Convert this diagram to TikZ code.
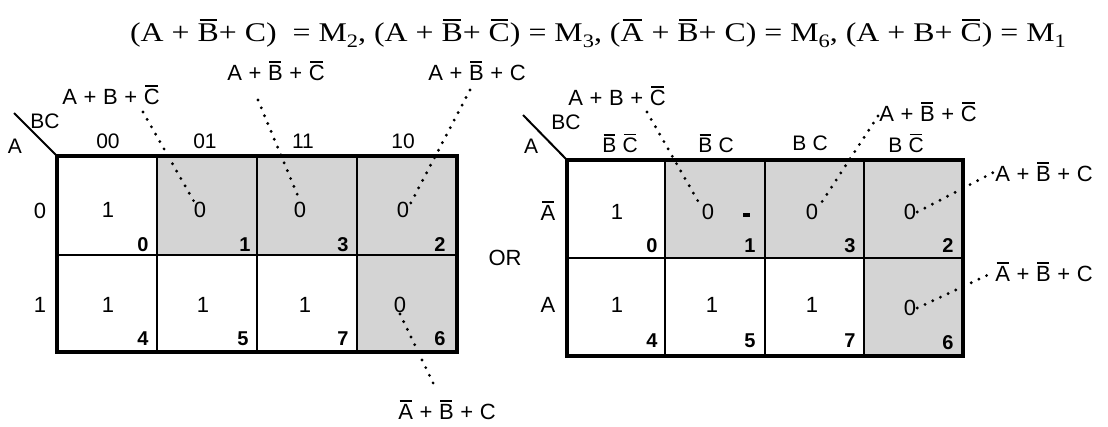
\documentclass[tikz,border=0pt]{standalone}
\usepackage{fontspec}
\setsansfont{Liberation Sans}
\newfontfamily\titlefont{Liberation Serif}
\newcommand\ob[1]{\leavevmode\setbox0\hbox{#1}\rlap{\hbox to \wd0{\hss\rule[\dimexpr\ht0+0.1em\relax]{0.82\wd0}{0.085em}\hss}}\box0}
\newcommand\fsz[1]{\fontsize{#1}{#1}\selectfont}
\newcommand\lp{\hspace{0.3em}+\hspace{0.3em}}
\newcommand\msub[1]{\raisebox{-0.22em}{\fsz{19}#1}}
\begin{document}
\begin{tikzpicture}[x=1pt,y=-1pt,
  gridline/.style={line width=2pt},
  frame/.style={line width=3.5pt},
  shade/.style={fill=black!17},
  val/.style={font=\sffamily\fsz{22}, inner sep=1pt},
  idx/.style={font=\sffamily\bfseries\fsz{20}, inner sep=0pt},
  lbl/.style={font=\sffamily\fsz{22}, inner sep=1pt},
  hdr/.style={font=\sffamily\fsz{21}, inner sep=0pt},
  dotline/.style={line width=3.2pt, line cap=round, dash pattern=on 0pt off 8.5pt}]
\useasboundingbox[fill=white] (0,0) rectangle (1108,426);

% title
\node[font=\titlefont\fsz{27}, inner sep=0pt] (title) at (598,33)
 {\scalebox{1.18}[1]{(A + \ob{B}+ C)\ \ = M\msub{2}, (A + \ob{B}+ \ob{C}) = M\msub{3}, (\ob{A}\ + \ob{B}+ C) = M\msub{6}, (A + B+ \ob{C}) = M\msub{1}}};

% ---------- left map ----------
\fill[shade] (157,156) rectangle (457,255);
\fill[shade] (357,255) rectangle (457,352);
\draw[gridline] (157,156) -- (157,352) (257,156) -- (257,352) (357,156) -- (357,352) (57,255) -- (457,255);
\draw[frame] (57,156) rectangle (457,352);
\draw[line width=2pt] (14,113) -- (57,156);
\node[hdr] (lA) at (15,146) {A};
\node[hdr] (lBC) at (45,121) {BC};
\node[hdr] (lc0) at (108,141) {00};
\node[hdr] (lc1) at (205,141) {01};
\node[hdr] (lc2) at (303,141) {11};
\node[hdr] (lc3) at (403,141) {10};
\node[val] (lr0) at (40,211) {0};
\node[val] (lr1) at (40,305) {1};

\node[val] (lv0) at (108,210) {1};
\node[val] (lv1) at (200,210) {0};
\node[val] (lv3) at (300,210) {0};
\node[val] (lv2) at (403,210) {0};
\node[val] (lv4) at (108,305) {1};
\node[val] (lv5) at (203,305) {1};
\node[val] (lv7) at (305,305) {1};
\node[val] (lv6) at (400,305) {0};
\node[idx] at (143,245) {0};
\node[idx] at (245,245) {1};
\node[idx] at (343,245) {3};
\node[idx] at (440,245) {2};
\node[idx] at (143,339) {4};
\node[idx] at (243,339) {5};
\node[idx] at (343,339) {7};
\node[idx] at (440,339) {6};

\node[lbl] (ll1) at (111,95) {A\lp B\lp\ob{C}};
\node[lbl] (ll3) at (276,71) {A\lp\ob{B}\lp\ob{C}};
\node[lbl] (ll2) at (477,71) {A\lp\ob{B}\lp C};
\node[lbl] (ll6) at (447,410) {\ob{A}\lp\ob{B}\lp C};
\coordinate (cl1) at (143,112);
\coordinate (cl3) at (258,100);
\coordinate (cl2) at (470,90);
\coordinate (cl6) at (436,389);
\draw[dotline] (cl1) -- (lv1.125);
\draw[dotline] (cl3) -- (lv3.north);
\draw[dotline] (cl2) -- (lv2.40);
\draw[dotline] (lv6.south) -- (cl6);

\node[font=\sffamily\fsz{22}] (or) at (505,258) {OR};

% ---------- right map ----------
\fill[shade] (665,160) rectangle (963,258);
\fill[shade] (864,258) rectangle (963,356);
\draw[gridline] (665,160) -- (665,356) (765,160) -- (765,356) (864,160) -- (864,356) (567,258) -- (963,258);
\draw[frame] (567,160) rectangle (963,356);
\draw[line width=2pt] (523,115) -- (567,160);
\node[hdr] (rA) at (531,146) {A};
\node[hdr] (rBC) at (566,122) {BC};
\node[hdr] (rc0) at (620,143) {\ob{B}\hspace{0.3em}\ob{C}};
\node[hdr] (rc1) at (716,143) {\ob{B}\hspace{0.3em}C};
\node[hdr] (rc2) at (810,143) {B\hspace{0.3em}C};
\node[hdr] (rc3) at (906,143) {B\hspace{0.3em}\ob{C}};
\node[val] (rr0) at (548,211) {\ob{A}};
\node[val] (rr1) at (548,305) {A};

\node[val] (rv0) at (617,212) {1};
\node[val] (rv1) at (708,212) {0};
\node[val] (rv3) at (812,212) {0};
\node[val] (rv2) at (910,212) {0};
\node[val] (rv4) at (617,305) {1};
\node[val] (rv5) at (712,305) {1};
\node[val] (rv7) at (812,305) {1};
\node[val] (rv6) at (910,308) {0};
\fill (743,213) rectangle (750,217);
\node[idx] at (652,246) {0};
\node[idx] at (750,246) {1};
\node[idx] at (850,246) {3};
\node[idx] at (948,246) {2};
\node[idx] at (652,341) {4};
\node[idx] at (750,341) {5};
\node[idx] at (850,341) {7};
\node[idx] at (948,343) {6};

\node[lbl] (rl1) at (617,96) {A\lp B\lp\ob{C}};
\node[lbl] (rl3) at (928,112) {A\lp\ob{B}\lp\ob{C}};
\node[lbl] (rl2) at (1044,172) {A\lp\ob{B}\lp C};
\node[lbl] (rl6) at (1044,272) {\ob{A}\lp\ob{B}\lp C};
\coordinate (cr1) at (647,112);
\coordinate (cr3) at (878,116);
\draw[dotline] (cr1) -- (rv1.140);
\draw[dotline] (cr3) -- (rv3.40);
\draw[dotline] (rv2.east) -- (rl2.west);
\draw[dotline] (rv6.east) -- (rl6.west);
\end{tikzpicture}
\end{document}
